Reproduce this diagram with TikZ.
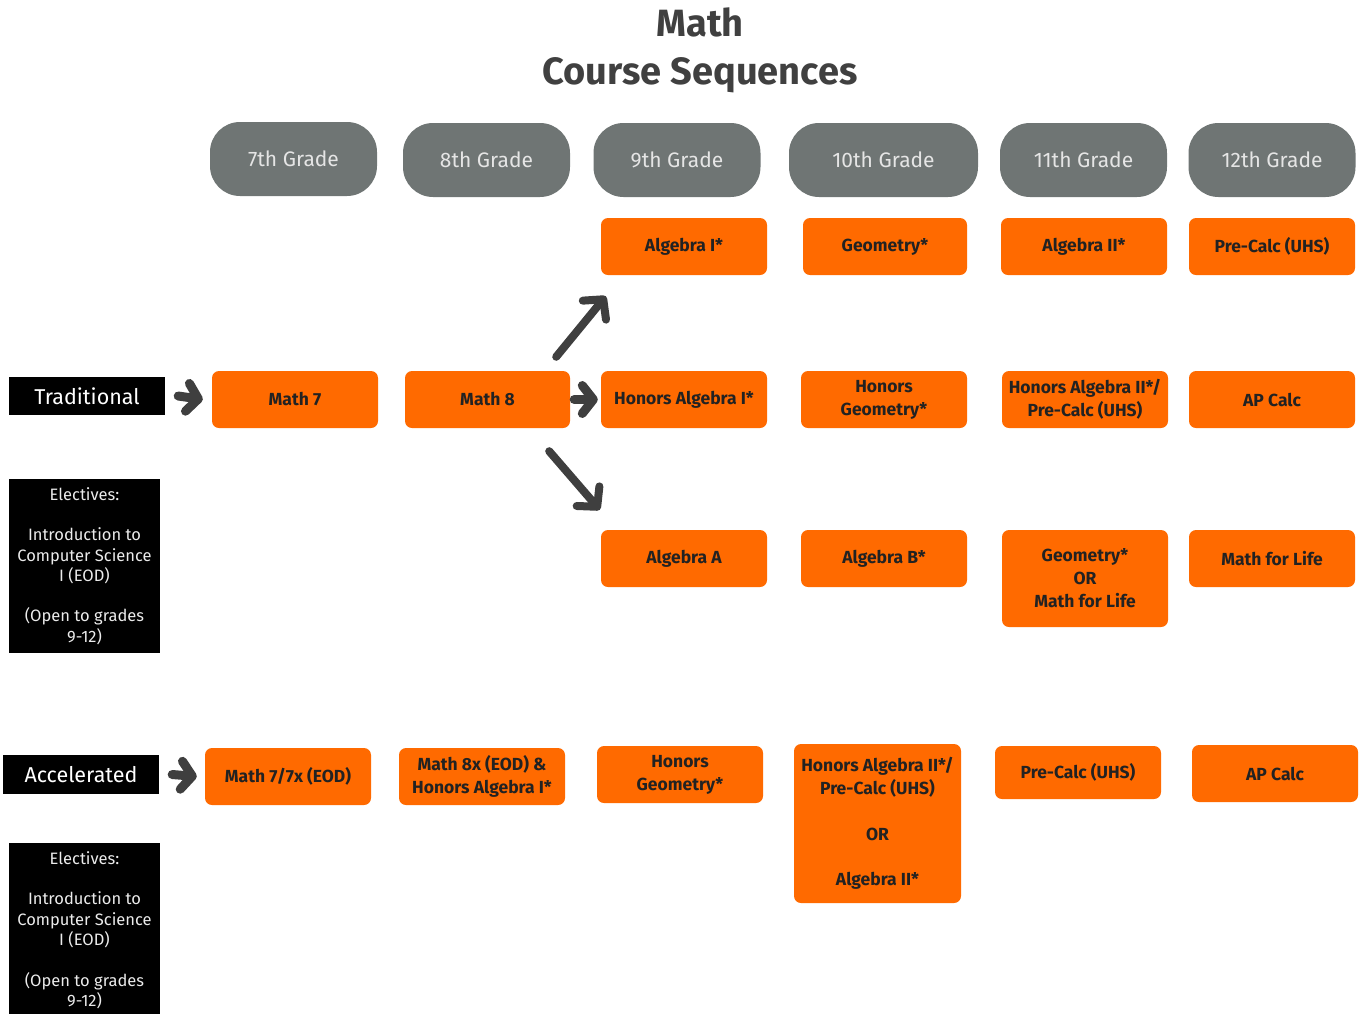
\documentclass[tikz,border=0pt]{standalone}
\usepackage{fontspec}
\setmainfont{Fira Sans}
\usetikzlibrary{arrows.meta}
\definecolor{pillgrey}{HTML}{6F7574}
\definecolor{boxorange}{HTML}{FF6A00}
\definecolor{titlegrey}{HTML}{404040}
\definecolor{arrowgrey}{HTML}{3F3F3F}
\definecolor{textdark}{HTML}{222222}
\begin{document}
\begin{tikzpicture}[x=1pt,y=-1pt,
  grade/.style={fill=pillgrey, rounded corners=30pt, minimum width=167pt, minimum height=74pt, inner sep=0pt,
    text=white!90!black, font=\fontsize{21}{24}\selectfont},
  course/.style={fill=boxorange, rounded corners=7pt, minimum width=166pt, minimum height=57pt, inner sep=0pt,
    align=center, text=textdark, font=\bfseries\fontsize{17.5}{23}\selectfont},
  tracklabel/.style={fill=black, text=white, minimum width=156pt, minimum height=38pt, inner sep=0pt,
    font=\fontsize{21.5}{24}\selectfont},
  elect/.style={fill=black, text=white!92!black, minimum width=151pt, minimum height=174pt, inner sep=0pt,
    align=center, font=\fontsize{16.5}{20.3}\selectfont},
  chev/.style={draw=arrowgrey, line width=9pt, line cap=round,
    -{Straight Barb[round,length=11pt,width=28pt]}},
  diag/.style={draw=arrowgrey, line width=8pt, line cap=round,
    -{Straight Barb[round,length=14pt,width=30pt]}}
]
\useasboundingbox (0,0) rectangle (1361,1013);

% title
\node[text=titlegrey, font=\bfseries\fontsize{38}{48}\selectfont, align=center] (title) at (700,50) {Math\\Course Sequences};

% grade pills
\node[grade] (g7) at (293.5,159) {7th Grade};
\node[grade] (g8) at (486.5,160) {8th Grade};
\node[grade] (g9) at (677,160) {9th Grade};
\node[grade, minimum width=189pt] (g10) at (883.5,160) {10th Grade};
\node[grade] (g11) at (1083.5,160) {11th Grade};
\node[grade] (g12) at (1272,160) {12th Grade};

% row 1
\node[course] (a1) at (684,246.5) {Algebra I*};
\node[course, minimum width=164pt] (geo) at (885,246.5) {Geometry*};
\node[course] (a2) at (1084,246.5) {Algebra II*};
\node[course] (pc) at (1272,246.5) {Pre-Calc (UHS)};

% row 2 (traditional)
\node[tracklabel] (trad) at (87,396) {Traditional};
\node[course] (m7) at (295,399.5) {Math 7};
\node[course, minimum width=165pt] (m8) at (487.5,399.5) {Math 8};
\node[course] (ha1) at (684,399.5) {Honors Algebra I*};
\node[course] (hg) at (884,399.5) {Honors\\Geometry*};
\node[course] (ha2) at (1085,399.5) {Honors Algebra II*/\\Pre-Calc (UHS)};
\node[course] (apc) at (1272,399.5) {AP Calc};

% row 3
\node[course] (aa) at (684,558.5) {Algebra A};
\node[course] (ab) at (884,558.5) {Algebra B*};
\node[course, minimum height=97pt] (gom) at (1085,578.5) {Geometry*\\OR\\Math for Life};
\node[course] (mfl) at (1272,558.5) {Math for Life};

% electives 1
\node[elect] (e1) at (84.5,566) {Electives:\\[20.3pt]Introduction to\\Computer Science\\I (EOD)\\[20.3pt](Open to grades\\9-12)};

% row 4 (accelerated)
\node[tracklabel, minimum height=39pt] (acc) at (81,774.5) {Accelerated};
\node[course] (m77) at (288,776.5) {Math 7/7x (EOD)};
\node[course] (m8x) at (482,776.5) {Math 8x (EOD) \&\\Honors Algebra I*};
\node[course] (hg4) at (680,774.5) {Honors\\Geometry*};
\node[course, minimum width=167pt, minimum height=159pt, font=\bfseries\fontsize{17.5}{22.8}\selectfont] (ha24) at (877.5,823.5)
  {Honors Algebra II*/\\Pre-Calc (UHS)\\[22.8pt]OR\\[22.8pt]Algebra II*};
\node[course, minimum height=53pt] (pc4) at (1078,772.5) {Pre-Calc (UHS)};
\node[course] (ap4) at (1275,773.5) {AP Calc};

% electives 2
\node[elect] (e2) at (84.5,930) {Electives:\\[20.3pt]Introduction to\\Computer Science\\I (EOD)\\[20.3pt](Open to grades\\9-12)};

% arrows
\draw[chev] ([xshift=13pt]trad.east) -- ([xshift=-9pt]m7.west);
\draw[chev] ([xshift=4pt]m8.east) -- ([xshift=-3pt]ha1.west);
\draw[chev] ([xshift=13pt]acc.east) -- ([xshift=-8pt]m77.west);
\draw[diag] ([shift={(-14,-14)}]m8.north east) -- ([shift={(5,21)}]a1.south west);
\draw[diag] ([shift={(-21,23)}]m8.south east) -- ([shift={(-1,-20)}]aa.north west);
\end{tikzpicture}
\end{document}
